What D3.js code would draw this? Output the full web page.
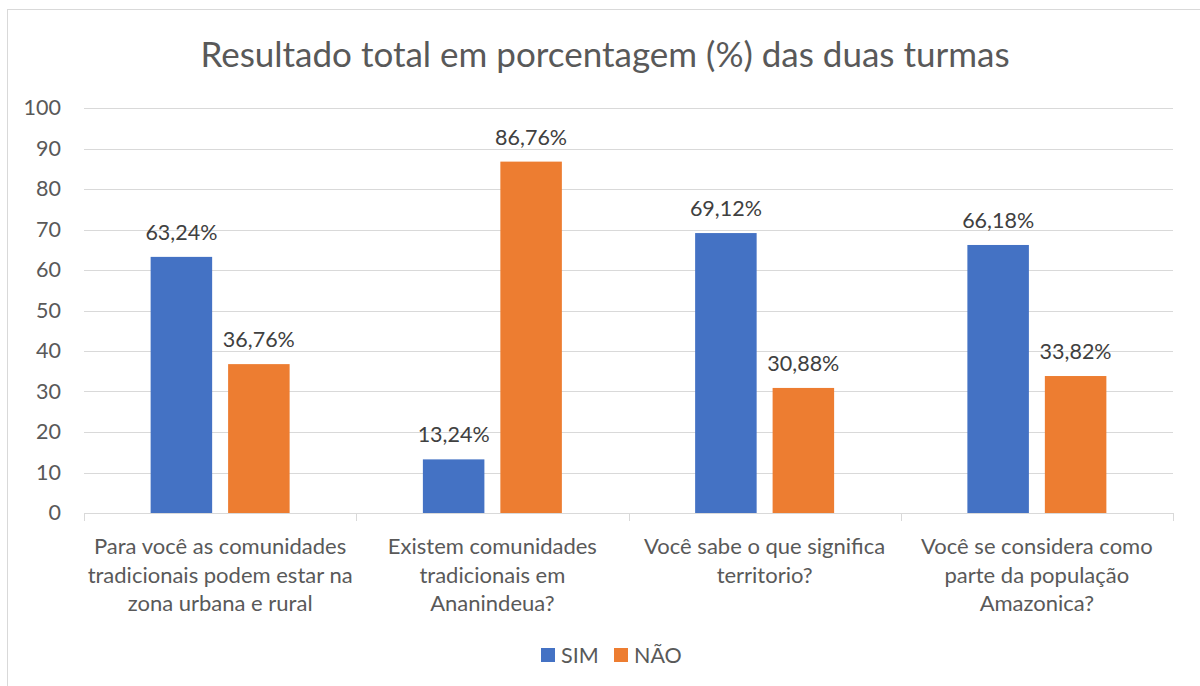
<!DOCTYPE html>
<html lang="pt-BR">
<head>
<meta charset="UTF-8">
<title>Resultado total em porcentagem</title>
<script src="https://d3js.org/d3.v7.min.js"></script>
<style>
    body { margin: 0; background: #fff; font-family: Lato, "Open Sans", sans-serif; }
    svg text { fill: #595959; }
    .grid line { stroke: #d9d9d9; }
</style>
</head>
<body>
<svg id="chart" width="1200" height="686"></svg>
<script>
// dados
const categorias = [
    "Para você as comunidades tradicionais podem estar na zona urbana e rural",
    "Existem comunidades tradicionais em Ananindeua?",
    "Você sabe o que significa territorio?",
    "Você se considera como parte da população Amazonica?"
];
// quebras de linha como no original
const rotulos = [
    ["Para você as comunidades", "tradicionais podem estar na", "zona urbana e rural"],
    ["Existem comunidades", "tradicionais em", "Ananindeua?"],
    ["Você sabe o que significa", "territorio?"],
    ["Você se considera como", "parte da população", "Amazonica?"]
];
const series = ["SIM", "NÃO"];
const sim = [63.24, 13.24, 69.12, 66.18];
const nao = [36.76, 86.76, 30.88, 33.82];
const yTicks = [0, 10, 20, 30, 40, 50, 60, 70, 80, 90, 100];
const cores = ["#4472C4", "#ED7D31"];

const svg = d3.select("#chart");

// moldura
svg.append("rect")
    .attr("x", 7.5).attr("y", 9.5)
    .attr("width", 1200).attr("height", 700)
    .attr("fill", "#fff").attr("stroke", "#d9d9d9");

const m = { left: 84, right: 1173, top: 108, bottom: 513 };

const x = d3.scaleBand().domain(d3.range(categorias.length)).range([m.left, m.right]);
const xs = d3.scaleBand().domain(series).range([0, x.bandwidth()]).paddingInner(0.206).paddingOuter(0.86);
const y = d3.scaleLinear().domain([0, 100]).range([m.bottom, m.top]);

// titulo
svg.append("text")
    .attr("x", 605).attr("y", 67)
    .attr("text-anchor", "middle")
    .style("font-size", "35px")
    .text("Resultado total em porcentagem (%) das duas turmas");

// grade
const grid = svg.append("g").attr("class", "grid");
grid.selectAll("line").data(yTicks).join("line")
    .attr("x1", m.left).attr("x2", m.right)
    .attr("y1", d => Math.round(y(d)) + 0.5).attr("y2", d => Math.round(y(d)) + 0.5);

// eixo y
svg.append("g").selectAll("text").data(yTicks).join("text")
    .attr("x", 61).attr("y", d => y(d) + 7)
    .attr("text-anchor", "end")
    .style("font-size", "21.5px")
    .text(d => d);

// marcas do eixo x
const bounds = d3.range(categorias.length + 1).map(i => i < categorias.length ? x(i) : m.right);
svg.append("g").selectAll("line").data(bounds).join("line")
    .attr("x1", d => Math.round(d) + 0.5).attr("x2", d => Math.round(d) + 0.5)
    .attr("y1", m.bottom).attr("y2", m.bottom + 8)
    .attr("stroke", "#d9d9d9");

// barras
const dados = categorias.map((c, i) => [
    { serie: "SIM", i: i, v: sim[i] },
    { serie: "NÃO", i: i, v: nao[i] }
]).flat();

svg.append("g").selectAll("rect").data(dados).join("rect")
    .attr("x", d => x(d.i) + xs(d.serie))
    .attr("y", d => y(d.v))
    .attr("width", xs.bandwidth())
    .attr("height", d => m.bottom - y(d.v))
    .attr("fill", d => cores[series.indexOf(d.serie)]);

// rotulos de dados
svg.append("g").selectAll("text").data(dados).join("text")
    .attr("x", d => x(d.i) + xs(d.serie) + xs.bandwidth() / 2)
    .attr("y", d => y(d.v) - 17)
    .attr("text-anchor", "middle")
    .style("font-size", "21.5px")
    .style("fill", "#404040")
    .text(d => d3.format(".2f")(d.v).replace(".", ",") + "%");

// rotulos das categorias
const cat = svg.append("g").selectAll("text").data(rotulos).join("text")
    .attr("x", (d, i) => x(i) + x.bandwidth() / 2)
    .attr("y", 554)
    .attr("text-anchor", "middle")
    .style("font-size", "22px");
cat.selectAll("tspan").data(d => d).join("tspan")
    .attr("x", function () { return d3.select(this.parentNode).attr("x"); })
    .attr("dy", (d, j) => j === 0 ? 0 : 28.5)
    .text(d => d);

// legenda
const legenda = svg.append("g");
const lx = [541, 614];
series.forEach((s, i) => {
    legenda.append("rect")
        .attr("x", lx[i]).attr("y", 648)
        .attr("width", 14).attr("height", 14)
        .attr("fill", cores[i]);
    legenda.append("text")
        .attr("x", lx[i] + 20).attr("y", 663)
        .style("font-size", "21.5px")
        .text(s);
});
</script>
</body>
</html>
